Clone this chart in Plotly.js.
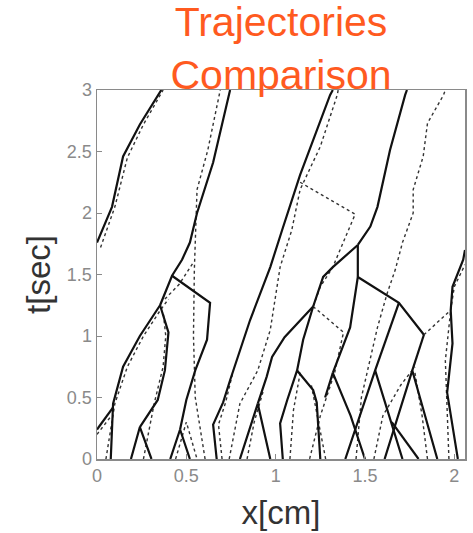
<!DOCTYPE html>
<html>
<head>
<meta charset="utf-8">
<script src="https://cdn.plot.ly/plotly-3.0.1.min.js"></script>
<style>html,body{margin:0;padding:0;background:#fff;}#chart{width:473px;height:533px;}</style>
</head>
<body>
<div id="chart"></div>
<script>
// ---- Solid trajectories (x in cm, t in sec) ----
const sA_x = [0, 0.084, 0.146, 0.24, 0.36];           const sA_t = [1.76, 2.05, 2.46, 2.72, 3.0];
const sB_x = [0.077, 0.085, 0.09, 0.146, 0.24, 0.353]; const sB_t = [0, 0.25, 0.45, 0.75, 1.0, 1.25];
const sB0_x = [0, 0.09];                               const sB0_t = [0.24, 0.42];
const sC_x = [0.19, 0.24, 0.305];                      const sC_t = [0, 0.26, 0];
const sC2_x = [0.24, 0.31, 0.34, 0.38, 0.40, 0.353];   const sC2_t = [0.26, 0.42, 0.48, 0.72, 1.03, 1.25];
const sD_x = [0.353, 0.42, 0.476, 0.52, 0.56, 0.65, 0.745]; const sD_t = [1.25, 1.49, 1.62, 1.76, 2.0, 2.41, 3.0];
const sE_x = [0.42, 0.633, 0.616, 0.55, 0.50, 0.465];  const sE_t = [1.49, 1.27, 0.97, 0.72, 0.48, 0.24];
const sE2_x = [0.41, 0.465, 0.52];                     const sE2_t = [0, 0.24, 0];
const sF_x = [0.67, 0.65, 0.706, 0.745, 0.857, 0.97, 1.036, 1.137, 1.305, 1.32];
const sF_t = [0, 0.28, 0.46, 0.64, 1.13, 1.56, 1.86, 2.31, 2.96, 3.0];
const sG_x = [0.80, 0.90, 0.97];                       const sG_t = [0, 0.45, 0];
const sG2_x = [0.90, 0.95, 0.98, 1.05, 1.21];          const sG2_t = [0.45, 0.67, 0.83, 0.99, 1.24];
const sH_x = [1.21, 1.266, 1.32, 1.46];                const sH_t = [1.24, 1.48, 1.56, 1.74];
const sH2_x = [1.46, 1.53, 1.57, 1.64, 1.725, 1.735];  const sH2_t = [1.74, 1.89, 2.05, 2.51, 2.96, 3.0];
const sI_x = [1.46, 1.46];                             const sI_t = [1.74, 1.48];
const sJ_x = [1.46, 1.69, 1.83];                       const sJ_t = [1.48, 1.27, 1.01];
const sK_x = [1.46, 1.417, 1.32];                      const sK_t = [1.48, 1.07, 0.70];
const sK2_x = [1.32, 1.277];                           const sK2_t = [0.70, 0.50];
const sK3_x = [1.32, 1.42, 1.50];                      const sK3_t = [0.70, 0.35, 0];
const sL_x = [1.21, 1.154, 1.12];                      const sL_t = [1.24, 0.97, 0.72];
const sL2_x = [1.04, 1.025, 1.065, 1.12, 1.21, 1.23, 1.25]; const sL2_t = [0, 0.29, 0.48, 0.72, 0.56, 0.46, 0];
const sM_x = [1.83, 1.765];                            const sM_t = [1.01, 0.72];
const sM2_x = [1.61, 1.765, 1.905];                    const sM2_t = [0, 0.72, 0];
const sN_x = [1.39, 1.557, 1.71];                      const sN_t = [0, 0.72, 0];
const sN2_x = [1.557, 1.69];                           const sN2_t = [0.72, 1.27];
const sO_x = [1.80, 1.65];                             const sO_t = [0, 0.30];
const sR_x = [2.02, 1.96, 1.99, 1.98, 1.99, 2.05, 2.06]; const sR_t = [0, 0.54, 0.94, 1.21, 1.40, 1.62, 1.70];

// ---- Dotted trajectories ----
const dA_x = [0.02, 0.1, 0.17, 0.26, 0.37];            const dA_t = [1.72, 2.05, 2.45, 2.72, 3.0];
const dB_x = [0.05, 0.1, 0.17, 0.26, 0.35, 0.40];      const dB_t = [0, 0.45, 0.75, 1.0, 1.2, 1.3];
const dC_x = [0.26, 0.32, 0.37, 0.385, 0.37];          const dC_t = [0, 0.45, 0.75, 1.0, 1.2];
const dJ_x = [0.38, 0.46, 0.54];                       const dJ_t = [1.3, 1.42, 1.6];
const d2_x = [0.605, 0.58, 0.55, 0.54, 0.545, 0.56, 0.62, 0.69]; const d2_t = [0, 0.23, 0.5, 1.0, 1.54, 2.19, 2.51, 3.0];
const dL_x = [0.0, 0.08];                              const dL_t = [0.2, 0.35];
const dV_x = [0.44, 0.5, 0.56];                        const dV_t = [0, 0.3, 0];
const d4_x = [0.74, 0.8, 0.9, 0.97, 1.025, 1.09, 1.137, 1.25, 1.345, 1.35];
const d4_t = [0, 0.45, 0.72, 1.05, 1.56, 1.86, 2.19, 2.54, 2.96, 3.0];
const dK_x = [1.137, 1.445, 1.32, 1.25, 1.21];         const dK_t = [2.25, 1.99, 1.56, 1.4, 1.24];
const dK2_x = [1.21, 1.38, 1.33, 1.25, 1.19];          const dK2_t = [1.24, 1.03, 0.7, 0.35, 0];
const dR_x = [1.45, 1.48, 1.57, 1.625, 1.67, 1.71, 1.77, 1.77, 1.826, 1.85, 1.94, 1.95];
const dR_t = [0, 0.5, 1.07, 1.35, 1.54, 1.76, 2.0, 2.19, 2.46, 2.73, 2.96, 3.0];
const dJ6_x = [1.83, 1.98, 2.0, 2.06];                 const dJ6_t = [1.01, 1.21, 1.4, 1.58];
const dR2_x = [1.97, 1.96, 1.95, 1.98];                const dR2_t = [0, 0.4, 0.8, 1.21];
const dC1_x = [0.84, 0.88, 0.93];                      const dC1_t = [0, 0.3, 0.55];
const dC2_x = [1.08, 1.1, 1.14];                       const dC2_t = [0, 0.4, 0.72];
const dC3_x = [1.28, 1.24, 1.2];                       const dC3_t = [0, 0.3, 0.6];
const dR3_x = [1.55, 1.6, 1.7, 1.78];                  const dR3_t = [0, 0.35, 0.6, 0.75];
const dR4_x = [1.85, 1.82, 1.78];                      const dR4_t = [0, 0.35, 0.7];
const dT4_x = [0.7, 0.68, 0.72, 0.76];                 const dT4_t = [0, 0.28, 0.46, 0.7];

// ---- Axis ticks ----
const xTickVals = [0, 0.5, 1, 1.5, 2];
const xTickText = ['0', '0.5', '1', '1.5', '2'];
const yTickVals = [0, 0.5, 1, 1.5, 2, 2.5, 3];
const yTickText = ['0', '0.5', '1', '1.5', '2', '2.5', '3'];

const solidLines = [
  [sA_x, sA_t], [sB_x, sB_t], [sB0_x, sB0_t], [sC_x, sC_t], [sC2_x, sC2_t], [sD_x, sD_t],
  [sE_x, sE_t], [sE2_x, sE2_t], [sF_x, sF_t], [sG_x, sG_t], [sG2_x, sG2_t], [sH_x, sH_t],
  [sH2_x, sH2_t], [sI_x, sI_t], [sJ_x, sJ_t], [sK_x, sK_t], [sK2_x, sK2_t], [sK3_x, sK3_t],
  [sL_x, sL_t], [sL2_x, sL2_t], [sM_x, sM_t], [sM2_x, sM2_t], [sN_x, sN_t], [sN2_x, sN2_t],
  [sO_x, sO_t], [sR_x, sR_t]
];
const dottedLines = [
  [dA_x, dA_t], [dB_x, dB_t], [dC_x, dC_t], [dJ_x, dJ_t], [d2_x, d2_t], [dL_x, dL_t],
  [dV_x, dV_t], [d4_x, d4_t], [dK_x, dK_t], [dK2_x, dK2_t], [dR_x, dR_t], [dJ6_x, dJ6_t],
  [dR2_x, dR2_t], [dC1_x, dC1_t], [dC2_x, dC2_t], [dC3_x, dC3_t], [dR3_x, dR3_t],
  [dR4_x, dR4_t], [dT4_x, dT4_t]
];

const traces = [];
dottedLines.forEach(function (p) {
  traces.push({x: p[0], y: p[1], type: 'scatter', mode: 'lines', hoverinfo: 'skip',
    line: {color: '#333', width: 1.4, dash: 'dot'}, showlegend: false});
});
solidLines.forEach(function (p) {
  traces.push({x: p[0], y: p[1], type: 'scatter', mode: 'lines', hoverinfo: 'skip',
    line: {color: '#111', width: 2.2}, showlegend: false});
});

const axisCommon = {
  showgrid: false, zeroline: false, showline: true, mirror: true,
  linecolor: '#8a8a8a', linewidth: 1.5,
  ticks: 'inside', ticklen: 5, tickcolor: '#8a8a8a', tickwidth: 1,
  tickfont: {family: 'Liberation Sans, Arial, sans-serif', size: 18, color: '#8a8a8a'}
};

const layout = {
  width: 473, height: 533,
  margin: {l: 97, r: 8, t: 90, b: 74},
  paper_bgcolor: '#fff', plot_bgcolor: '#fff',
  title: {
    text: 'Trajectories<br>Comparison',
    font: {family: 'Liberation Sans, Arial, sans-serif', size: 41, color: '#ff5a1f'},
    x: 0.5, xanchor: 'center', xref: 'paper',
    y: 0.933, yanchor: 'top'
  },
  xaxis: Object.assign({}, axisCommon, {
    range: [0, 2.06], tickvals: xTickVals, ticktext: xTickText,
    title: {text: 'x[cm]', font: {family: 'Liberation Sans, Arial, sans-serif', size: 33, color: '#333'}, standoff: 16}
  }),
  yaxis: Object.assign({}, axisCommon, {
    range: [0, 3], tickvals: yTickVals, ticktext: yTickText,
    title: {text: 't[sec]', font: {family: 'Liberation Sans, Arial, sans-serif', size: 33, color: '#333'}, standoff: 6}
  })
};

Plotly.newPlot('chart', traces, layout, {staticPlot: true, displayModeBar: false});
</script>
</body>
</html>
